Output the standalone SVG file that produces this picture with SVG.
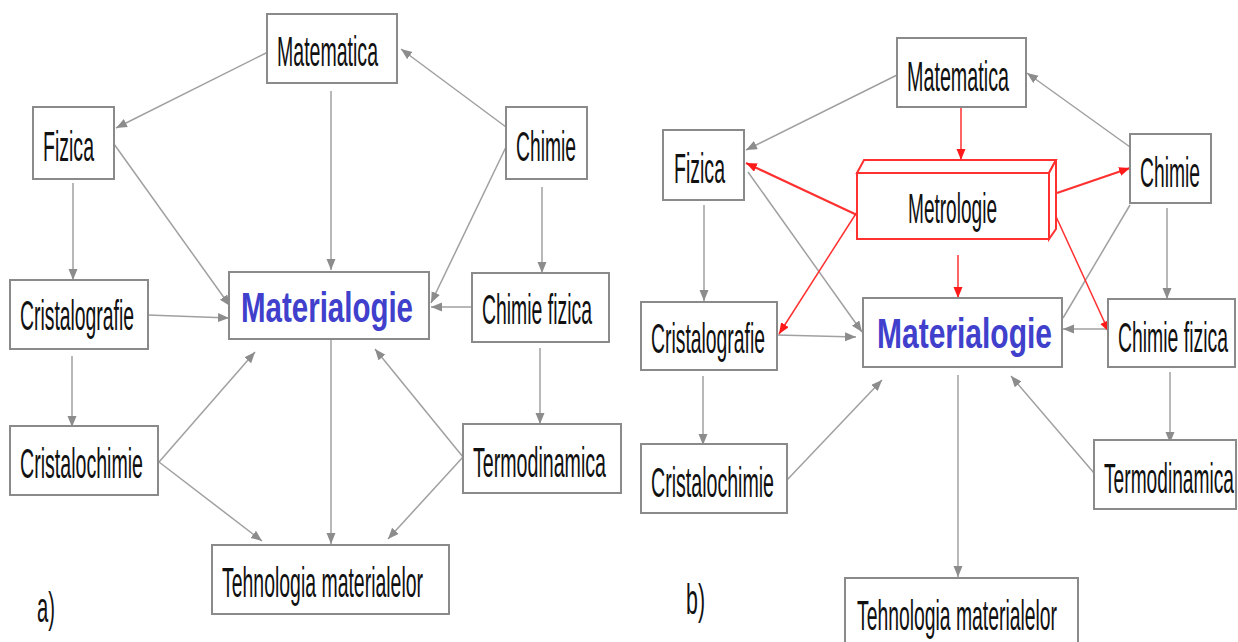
<svg xmlns="http://www.w3.org/2000/svg" width="1238" height="642" viewBox="0 0 1238 642">
<defs>
<marker id="ag" markerUnits="userSpaceOnUse" markerWidth="12" markerHeight="10" refX="11" refY="4.5" orient="auto"><path d="M0,0 L11,4.5 L0,9 z" fill="#8c8c8c"/></marker>
<marker id="ar" markerUnits="userSpaceOnUse" markerWidth="12" markerHeight="10" refX="11" refY="4.5" orient="auto"><path d="M0,0 L11,4.5 L0,9 z" fill="#ff1a1a"/></marker>
<style>
.box{fill:#fff;stroke:#8a8a8a;stroke-width:2}
.t{font-family:"Liberation Sans",Arial,sans-serif;font-size:42px;fill:#111}
.m{font-family:"Liberation Sans",Arial,sans-serif;font-size:42px;font-weight:bold;fill:#4040cc}
.g{stroke:#a0a0a0;stroke-width:1.5;fill:none;marker-end:url(#ag)}
.gn{stroke:#a0a0a0;stroke-width:1.5;fill:none}
.r{stroke:#ff3030;stroke-width:1.5;fill:none;marker-end:url(#ar)}
.r2{stroke:#ff3030;stroke-width:2.2;fill:none;marker-end:url(#ar)}
.lab{font-family:"Liberation Sans",Arial,sans-serif;font-size:42px;fill:#111}
</style>
</defs>
<rect width="1238" height="642" fill="#fff"/>

<g id="connectors-a">
<line class="g" x1="268" y1="52" x2="116" y2="128"/>
<line class="g" x1="331" y1="91" x2="331" y2="270"/>
<line class="g" x1="506" y1="127" x2="401" y2="49"/>
<line class="g" x1="506" y1="147" x2="431" y2="303"/>
<line class="g" x1="114" y1="144" x2="230" y2="306"/>
<line class="g" x1="73" y1="183" x2="73" y2="280"/>
<line class="g" x1="542" y1="187" x2="542" y2="273"/>
<line class="g" x1="472" y1="307" x2="431" y2="307"/>
<line class="g" x1="148" y1="315" x2="229" y2="318"/>
<line class="g" x1="72" y1="356" x2="72" y2="427"/>
<line class="g" x1="159" y1="462" x2="255" y2="352"/>
<line class="g" x1="159" y1="462" x2="262" y2="541"/>
<line class="g" x1="331" y1="340" x2="331" y2="544"/>
<line class="g" x1="463" y1="457" x2="375" y2="349"/>
<line class="g" x1="463" y1="457" x2="388" y2="539"/>
<line class="g" x1="540" y1="348" x2="540" y2="424"/>
</g>

<g id="connectors-b">
<line class="g" x1="897" y1="75" x2="746" y2="150"/>
<line class="g" x1="1130" y1="147" x2="1027" y2="73"/>
<line class="g" x1="704" y1="205" x2="704" y2="301"/>
<line class="g" x1="748" y1="172" x2="862" y2="332"/>
<line class="gn" x1="1130" y1="205" x2="1063" y2="318"/>
<line class="g" x1="1167" y1="208" x2="1167" y2="299"/>
<line class="g" x1="777" y1="335" x2="856" y2="337"/>
<line class="g" x1="1108" y1="329" x2="1063" y2="329"/>
<line class="g" x1="703" y1="376" x2="703" y2="445"/>
<line class="g" x1="787" y1="480" x2="882" y2="380"/>
<line class="g" x1="1094" y1="473" x2="1011" y2="376"/>
<line class="g" x1="1170" y1="372" x2="1170" y2="443"/>
<line class="g" x1="958" y1="375" x2="958" y2="577"/>
<line class="r" x1="961" y1="107" x2="961" y2="160"/>
<line class="r2" x1="857" y1="215" x2="746" y2="163"/>
<line class="r2" x1="1057" y1="193" x2="1130" y2="168"/>
<line class="r" x1="958" y1="255" x2="958" y2="298"/>
<line class="r" x1="857" y1="212" x2="779" y2="334"/>
<line class="r" x1="1053" y1="210" x2="1109" y2="332"/>
</g>

<g id="a-matematica"><rect class="box" x="267" y="14" width="130" height="69"/><text class="t" x="277" y="66" textLength="101" lengthAdjust="spacingAndGlyphs">Matematica</text></g>
<g id="a-fizica"><rect class="box" x="33" y="107" width="81" height="72"/><text class="t" x="43" y="161" textLength="51" lengthAdjust="spacingAndGlyphs">Fizica</text></g>
<g id="a-chimie"><rect class="box" x="506" y="107" width="81" height="72"/><text class="t" x="516" y="161" textLength="60" lengthAdjust="spacingAndGlyphs">Chimie</text></g>
<g id="a-materialogie"><rect class="box" x="229" y="272" width="200" height="67"/><text class="m" x="241" y="322" textLength="172" lengthAdjust="spacingAndGlyphs">Materialogie</text></g>
<g id="a-chimie-fizica"><rect class="box" x="472" y="273" width="137" height="69"/><text class="t" x="482" y="324" textLength="110" lengthAdjust="spacingAndGlyphs">Chimie fizica</text></g>
<g id="a-cristalografie"><rect class="box" x="10" y="280" width="138" height="69"/><text class="t" x="20" y="330" textLength="114" lengthAdjust="spacingAndGlyphs">Cristalografie</text></g>
<g id="a-cristalochimie"><rect class="box" x="10" y="426" width="148" height="69"/><text class="t" x="20" y="478" textLength="123" lengthAdjust="spacingAndGlyphs">Cristalochimie</text></g>
<g id="a-termodinamica"><rect class="box" x="463" y="424" width="158" height="69"/><text class="t" x="473" y="477" textLength="133" lengthAdjust="spacingAndGlyphs">Termodinamica</text></g>
<g id="a-tehnologia"><rect class="box" x="212" y="545" width="237" height="69"/><text class="t" x="222" y="597" textLength="201" lengthAdjust="spacingAndGlyphs">Tehnologia materialelor</text></g>
<g id="label-a"><text class="lab" x="37" y="622" textLength="18" lengthAdjust="spacingAndGlyphs">a)</text></g>

<g id="b-matematica"><rect class="box" x="897" y="38" width="129" height="69"/><text class="t" x="907" y="91" textLength="102" lengthAdjust="spacingAndGlyphs">Matematica</text></g>
<g id="b-fizica"><rect class="box" x="663" y="130" width="81" height="70"/><text class="t" x="674" y="183" textLength="51" lengthAdjust="spacingAndGlyphs">Fizica</text></g>
<g id="b-chimie"><rect class="box" x="1130" y="134" width="81" height="69"/><text class="t" x="1140" y="187" textLength="60" lengthAdjust="spacingAndGlyphs">Chimie</text></g>
<g id="b-metrologie">
<polygon points="857,173 864,160 1056,160 1049,173" fill="#fff" stroke="#ff3030" stroke-width="2"/>
<polygon points="1049,173 1056,160 1056,229 1049,239" fill="#fff" stroke="#ff3030" stroke-width="2"/>
<rect x="857" y="173" width="192" height="66" fill="#fff" stroke="#ff3030" stroke-width="2"/>
<text class="t" x="908" y="223" textLength="89" lengthAdjust="spacingAndGlyphs">Metrologie</text>
</g>
<g id="b-materialogie"><rect class="box" x="863" y="298" width="199" height="69"/><text class="m" x="877" y="348" textLength="175" lengthAdjust="spacingAndGlyphs">Materialogie</text></g>
<g id="b-cristalografie"><rect class="box" x="641" y="302" width="136" height="68"/><text class="t" x="651" y="353" textLength="114" lengthAdjust="spacingAndGlyphs">Cristalografie</text></g>
<g id="b-chimie-fizica"><rect class="box" x="1108" y="299" width="127" height="68"/><text class="t" x="1118" y="352" textLength="110" lengthAdjust="spacingAndGlyphs">Chimie fizica</text></g>
<g id="b-cristalochimie"><rect class="box" x="641" y="444" width="146" height="69"/><text class="t" x="651" y="497" textLength="123" lengthAdjust="spacingAndGlyphs">Cristalochimie</text></g>
<g id="b-termodinamica"><rect class="box" x="1094" y="440" width="142" height="69"/><text class="t" x="1104" y="493" textLength="130" lengthAdjust="spacingAndGlyphs">Termodinamica</text></g>
<g id="b-tehnologia"><rect class="box" x="845" y="578" width="233" height="72"/><text class="t" x="857" y="630" textLength="200" lengthAdjust="spacingAndGlyphs">Tehnologia materialelor</text></g>
<g id="label-b"><text class="lab" x="686" y="614" textLength="19" lengthAdjust="spacingAndGlyphs">b)</text></g>
</svg>
